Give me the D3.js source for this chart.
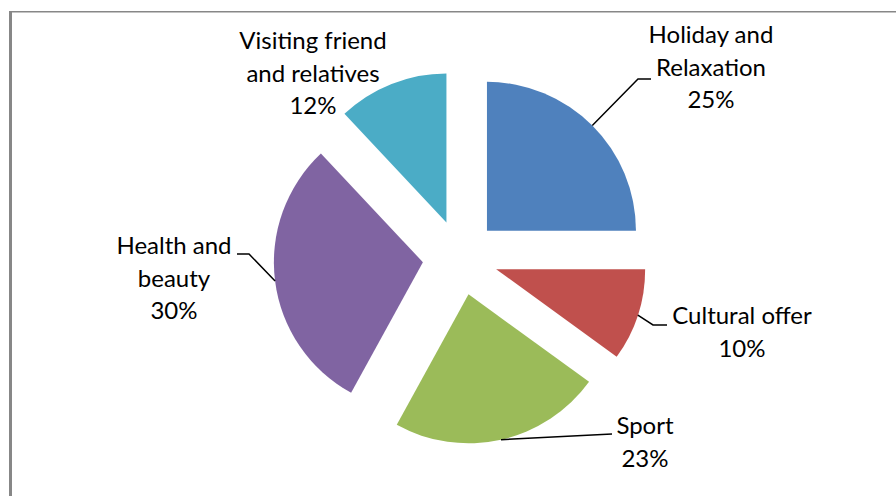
<!DOCTYPE html>
<html>
<head>
<meta charset="utf-8">
<script src="https://cdn.jsdelivr.net/npm/d3@7"></script>
<style>
  html, body { margin: 0; padding: 0; background: #fff; }
  svg { display: block; }
  text { font-family: Lato, "Open Sans", sans-serif; font-size: 24px; fill: #000; }
</style>
</head>
<body>
<svg id="chart" width="896" height="496"></svg>
<script>
// ---- data ----
const categories = ["Holiday and Relaxation", "Cultural offer", "Sport", "Health and beauty", "Visiting friend and relatives"];
const labelLines = [["Holiday and", "Relaxation"], ["Cultural offer"], ["Sport"], ["Health and", "beauty"], ["Visiting friend", "and relatives"]];
const values = [25, 10, 23, 30, 12];
const colors = ["#4F81BD", "#C0504D", "#9BBB59", "#8064A2", "#4BACC6"];

// ---- layout (not data) ----
const W = 896, H = 496;
const cx = 460.3, cy = 257.5, R = 149, explode = 37.7;
// label text centre x, first baseline y; leader: elbow point & end of horizontal (null = no leader)
const labelLayout = [
  { x: 711, y: 43,  elbow: [638, 79],  end: [651, 79] },
  { x: 742, y: 324, elbow: [653, 325], end: [667, 325] },
  { x: 645, y: 434, elbow: [612, 434], end: [612, 434] },
  { x: 174, y: 254, elbow: [249, 254], end: [237, 254] },
  { x: 313, y: 49,  elbow: null,       end: null }
];
const lineH = 32.5;

const svg = d3.select("#chart");

// border (chart area frame, partially visible)
svg.append("rect").attr("x", 9).attr("y", 11).attr("width", W - 9).attr("height", 1.5).attr("fill", "#878787");
svg.append("rect").attr("x", 9).attr("y", 11).attr("width", 3).attr("height", H - 11).attr("fill", "#878787");

const total = d3.sum(values);
const pie = d3.pie().sort(null).value(d => d).startAngle(0).endAngle(2 * Math.PI);
const arcs = pie(values);
const arc = d3.arc().innerRadius(0).outerRadius(R);
const fmt = d3.format(".0%");

const g = svg.append("g").attr("transform", `translate(${cx},${cy})`);

arcs.forEach((a, i) => {
  const mid = (a.startAngle + a.endAngle) / 2;
  const ox = Math.sin(mid) * explode, oy = -Math.cos(mid) * explode;
  g.append("path")
    .attr("d", arc(a))
    .attr("transform", `translate(${ox},${oy})`)
    .attr("fill", colors[i]);

  const L = labelLayout[i];
  if (L.elbow) {
    const sx = cx + ox + Math.sin(mid) * R, sy = cy + oy - Math.cos(mid) * R;
    svg.append("polyline")
      .attr("points", [[sx, sy], L.elbow, L.end].map(p => p.join(",")).join(" "))
      .attr("fill", "none").attr("stroke", "#000").attr("stroke-width", 1.5);
  }
  const lines = labelLines[i].concat([fmt(values[i] / total)]);
  const t = svg.append("text").attr("text-anchor", "middle");
  lines.forEach((ln, k) => {
    t.append("tspan").attr("x", L.x).attr("y", L.y + k * lineH).text(ln);
  });
});
</script>
</body>
</html>
